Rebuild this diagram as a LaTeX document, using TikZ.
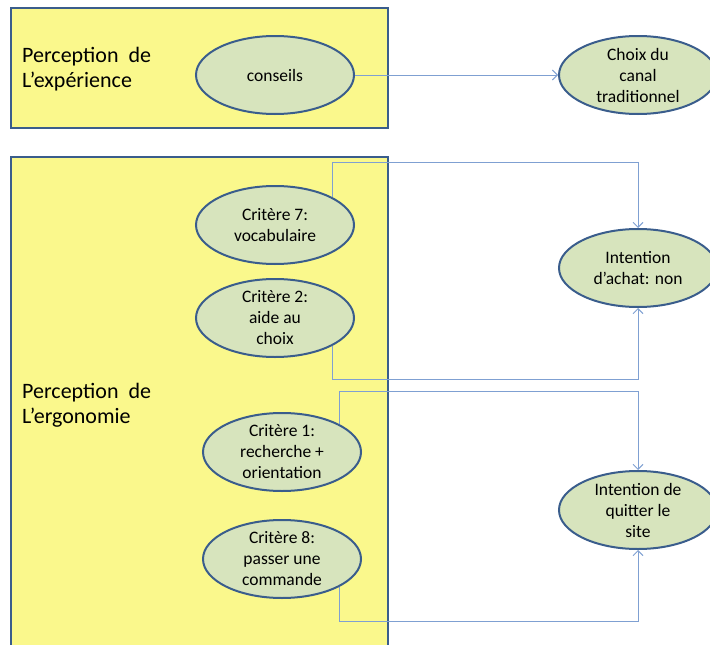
\documentclass[tikz,border=0pt]{standalone}
\usepackage{fontspec}
\setmainfont{Carlito}
\usepackage{tikz}
\usetikzlibrary{shapes.geometric, arrows.meta}
\definecolor{boxline}{HTML}{3A5D8C}
\definecolor{boxfill}{HTML}{FAF88C}
\definecolor{critfill}{HTML}{D7E4BD}
\definecolor{linkline}{HTML}{7FA0D2}
\newcommand*{\critere}[2]{Critère #1:\\#2}

\begin{document}
\begin{tikzpicture}[x=1pt, y=-1pt,
    zone/.style={draw=boxline, line width=2.5pt, fill=boxfill},
    link/.style={draw=linkline, line width=1pt, -{Straight Barb[length=5pt, width=10pt]}}]
        \clip (0,0) rectangle (710,645);

        \draw [zone] (11,8) rectangle (388,128);
        \draw [zone] (11,157) rectangle (388,670);

        {\tikzstyle{every node}=[anchor=west, align=left, inner sep=0pt,
            font=\fontsize{22}{25}\selectfont]
          \node (pexp) at (22,69) {Perception~~de\\L’expérience};
          \node (perg) at (22,405) {Perception~~de\\L’ergonomie};
        }

        {\tikzstyle{every node}=[ellipse, draw=boxline, line width=2pt, fill=critfill,
            minimum width=158pt, minimum height=78pt, inner xsep=0pt, inner ysep=-5pt,
            align=center, font=\fontsize{17.5}{21}\selectfont]
          \node (cons) at (275,75) {conseils};
          \node (choix) at (638,75) {Choix du\\canal\\traditionnel};
          \node (c7) at (275,225) {\critere{7}{vocabulaire}};
          \node (c2) at (275,318) {\critere{2}{aide au\\choix}};
          \node (c1) at (282,452) {\critere{1}{recherche +\\orientation}};
          \node (c8) at (282,559) {\critere{8}{passer une\\commande}};
          \node (ia) at (638,268) {Intention\\d’achat: non};
          \node (iq) at (638,510) {Intention de\\quitter le\\site};
        }

        \draw [link] (cons) -- (choix);
        \draw [link] (c7.26) -- ++(0,-34.5) -| (ia.north);
        \draw [link] (c2.-26) -- ++(0,33.5) -| (ia.south);
        \draw [link] (c1.26) -- ++(0,-32.5) -| (iq.north);
        \draw [link] (c8.-26) -- ++(0,34.5) -| (iq.south);
      \end{tikzpicture}
\end{document}
